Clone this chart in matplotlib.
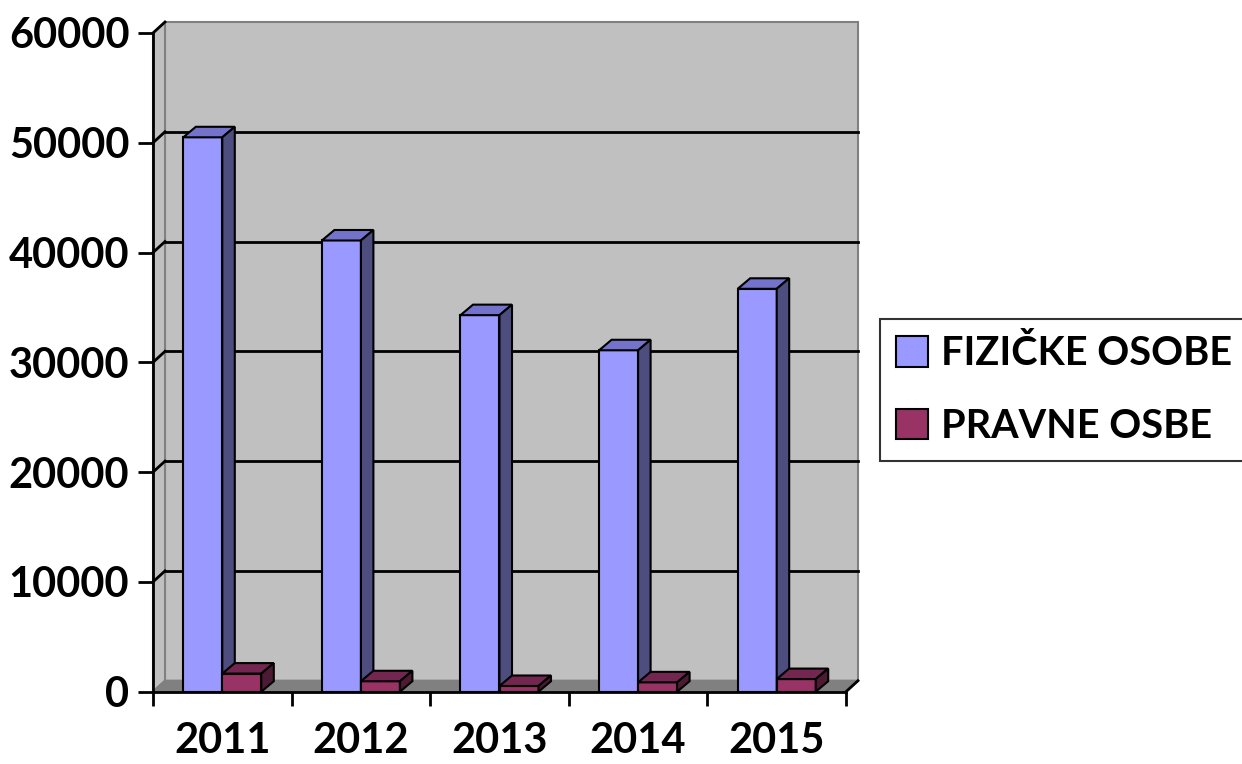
import matplotlib
matplotlib.use("Agg")
import matplotlib.pyplot as plt
from matplotlib.patches import Polygon, Patch
import numpy as np

FONT = ['Lato', 'DejaVu Sans']
plt.rcParams['font.family'] = FONT
plt.rcParams['font.weight'] = 'bold'

years = ['2011', '2012', '2013', '2014', '2015']
fizicke = [50500, 41100, 34300, 31100, 36700]
pravne = [1650, 950, 520, 850, 1150]
series_names = ['FIZIČKE OSOBE', 'PRAVNE OSBE']
yticks = [0, 10000, 20000, 30000, 40000, 50000, 60000]

W, H = 1242, 764
fig = plt.figure(figsize=(W / 100, H / 100), dpi=100)
left_px, right_px, bottom_px, top_px = 153, 846, 691.7, 33
ax = fig.add_axes([left_px / W, 1 - bottom_px / H,
                   (right_px - left_px) / W, (bottom_px - top_px) / H])
ncat = len(years)
ymax = yticks[-1]
ax.set_xlim(0, ncat)
ax.set_ylim(0, ymax)

# depth offset (pixels -> data units)
px_per_x = (right_px - left_px) / ncat
px_per_y = (bottom_px - top_px) / ymax
wall_dx, wall_dy = 12 / px_per_x, 11 / px_per_y
bar_dx, bar_dy = 12.5 / px_per_x, 10.5 / px_per_y

wall_c = '#C0C0C0'
floor_c = '#808080'
edge_gray = '#808080'

# back wall
ax.add_patch(Polygon([(wall_dx, wall_dy), (ncat + wall_dx, wall_dy),
                      (ncat + wall_dx, ymax + wall_dy), (wall_dx, ymax + wall_dy)],
                     closed=True, facecolor=wall_c, edgecolor=edge_gray, lw=1.5,
                     clip_on=False, zorder=0))
# side wall
ax.add_patch(Polygon([(0, 0), (wall_dx, wall_dy), (wall_dx, ymax + wall_dy), (0, ymax)],
                     closed=True, facecolor=wall_c, edgecolor=edge_gray, lw=1.5,
                     clip_on=False, zorder=0.5))
# floor
ax.add_patch(Polygon([(0, 0), (ncat, 0), (ncat + wall_dx, wall_dy), (wall_dx, wall_dy)],
                     closed=True, facecolor=floor_c, edgecolor=edge_gray, lw=1.5,
                     clip_on=False, zorder=0.6))
# gridlines
for v in yticks[1:]:
    if v < ymax:
        ax.plot([wall_dx, ncat + wall_dx], [v + wall_dy, v + wall_dy], color='black',
                lw=2, clip_on=False, zorder=1)
    ax.plot([0, wall_dx], [v, v + wall_dy], color='black', lw=2, clip_on=False, zorder=1)
# floor right edge
ax.plot([ncat, ncat + wall_dx], [0, wall_dy], color='black', lw=2, clip_on=False, zorder=1)

colors = [
    {'front': '#9999FF', 'top': '#7373CC', 'side': '#4D4D80'},
    {'front': '#993366', 'top': '#732650', 'side': '#4D1A33'},
]
bw = 39 / px_per_x
x = np.arange(ncat) + 0.5
offsets = [-bw, 0]
for i in range(ncat):
    for s, vals in enumerate([fizicke, pravne]):
        x0 = x[i] + offsets[s]
        x1 = x0 + bw
        h = vals[i]
        c = colors[s]
        z = 3 + i * 2 + s * 0.5
        ax.bar(x0, h, width=bw, align='edge', color=c['front'], edgecolor='black',
               lw=1.5, zorder=z)
        ax.add_patch(Polygon([(x0, h), (x1, h), (x1 + bar_dx, h + bar_dy), (x0 + bar_dx, h + bar_dy)],
                             closed=True, facecolor=c['top'], edgecolor='black', lw=1.5,
                             clip_on=False, zorder=z))
        ax.add_patch(Polygon([(x1, 0), (x1 + bar_dx, bar_dy), (x1 + bar_dx, h + bar_dy), (x1, h)],
                             closed=True, facecolor=c['side'], edgecolor='black', lw=1.5,
                             clip_on=False, zorder=z))

# axes styling
for sp in ['top', 'right']:
    ax.spines[sp].set_visible(False)
for sp in ['left', 'bottom']:
    ax.spines[sp].set_linewidth(2)
    ax.spines[sp].set_color('black')
    ax.spines[sp].set_zorder(20)
ax.set_facecolor('none')
ax.set_yticks(yticks)
ax.set_yticklabels([str(v) for v in yticks], fontsize=30, fontweight='bold')
ax.tick_params(axis='y', direction='out', length=11, width=2, pad=6)
ax.set_xticks(np.arange(ncat + 1))
ax.set_xticklabels([])
ax.tick_params(axis='x', which='major', direction='out', length=10, width=2)
ax.set_xticks(x, minor=True)
ax.set_xticklabels(years, minor=True, fontsize=30, fontweight='bold')
ax.tick_params(axis='x', which='minor', length=0, pad=22)

handles = [Patch(facecolor=colors[0]['front'], edgecolor='black', lw=1.5),
           Patch(facecolor=colors[1]['front'], edgecolor='black', lw=1.5)]
leg = fig.legend(handles, series_names, loc='center left',
                 bbox_to_anchor=(880 / W, 1 - 390 / H),
                 prop={'family': FONT, 'weight': 'bold', 'size': 28.5},
                 frameon=True, fancybox=False, handlelength=0.8, handleheight=0.8,
                 handletextpad=0.35, labelspacing=0.9, borderpad=0.4,
                 borderaxespad=0)
leg.get_frame().set_edgecolor('black')
leg.get_frame().set_linewidth(1.5)

fig.savefig('out.png', dpi=100)
